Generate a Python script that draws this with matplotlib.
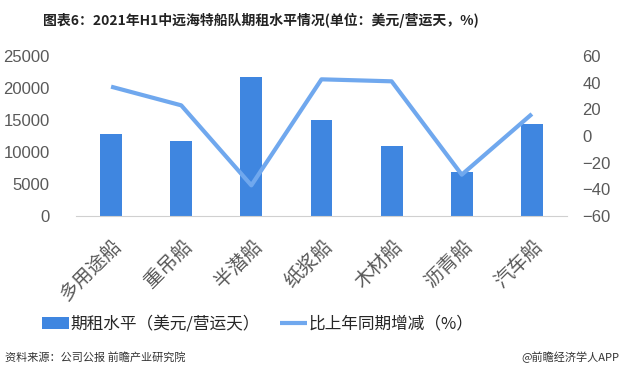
import matplotlib.pyplot as plt
import numpy as np

plt.rcParams['font.family'] = ['Noto Sans CJK SC', 'DejaVu Sans']

# data
ships = ['多用途船', '重吊船', '半潜船', '纸浆船', '木材船', '沥青船', '汽车船']
rent = [12800, 11700, 21700, 15000, 11000, 6900, 14400]
yoy = [37, 23, -37, 42.5, 41, -29, 16.5]

bar_color = '#3f86e0'
line_color = '#70a8ee'
tick_color = '#595959'

fig = plt.figure(figsize=(6.21, 3.77), dpi=100)
ax = fig.add_axes([0.1224, 0.427, 0.7906, 0.4245])
ax2 = ax.twinx()

x = np.arange(len(ships))
b = ax.bar(x, rent, width=0.31, color=bar_color, label='期租水平（美元/营运天）', zorder=2)
l, = ax2.plot(x, yoy, color=line_color, lw=3, solid_capstyle='butt',
              label='比上年同期增减（%）', zorder=3)

ax.set_xlim(-0.5, 6.5)
ax.set_ylim(0, 25000)
ax.set_yticks(range(0, 25001, 5000))
ax2.set_ylim(-60, 60)
ax2.set_yticks(range(-60, 61, 20))

for a in (ax, ax2):
    for s in ('top', 'left', 'right', 'bottom'):
        a.spines[s].set_visible(False)
    a.tick_params(length=0, colors=tick_color)
ax.spines['bottom'].set_visible(True)
ax.spines['bottom'].set_color('#d0d0d0')

for t in ax.get_yticklabels():
    t.set_fontfamily('Liberation Sans')
    t.set_fontsize(12)
for t in ax2.get_yticklabels():
    t.set_fontfamily('Liberation Sans')
    t.set_fontsize(12)
ax.tick_params(axis='y', pad=19)
ax2.tick_params(axis='y', pad=11)

ax.set_xticks(x)
ax.set_xticklabels(ships, rotation=45, ha='right', va='top',
                   rotation_mode='anchor', fontsize=14, color=tick_color)
ax.tick_params(axis='x', pad=14)

ax2.set_zorder(ax.get_zorder() + 1)

fig.legend([b, l], ['期租水平（美元/营运天）', '比上年同期增减（%）'],
           loc='center', bbox_to_anchor=(0.415, 0.14), ncol=2, frameon=False,
           fontsize=12, handlelength=1.6, handletextpad=0.1, columnspacing=1.2,
           labelcolor='#262626')

fig.text(0.42, 0.947, '图表6：2021年H1中远海特船队期租水平情况(单位：美元/营运天，%)',
         ha='center', va='center', fontsize=10, fontweight='bold', color='#222222')
fig.text(0.008, 0.053, '资料来源：公司公报 前瞻产业研究院', ha='left', va='center',
         fontsize=8, color='#333333')
fig.text(0.998, 0.053, '@前瞻经济学人APP', ha='right', va='center',
         fontsize=8, color='#333333')

fig.savefig('out.png', dpi=100)
